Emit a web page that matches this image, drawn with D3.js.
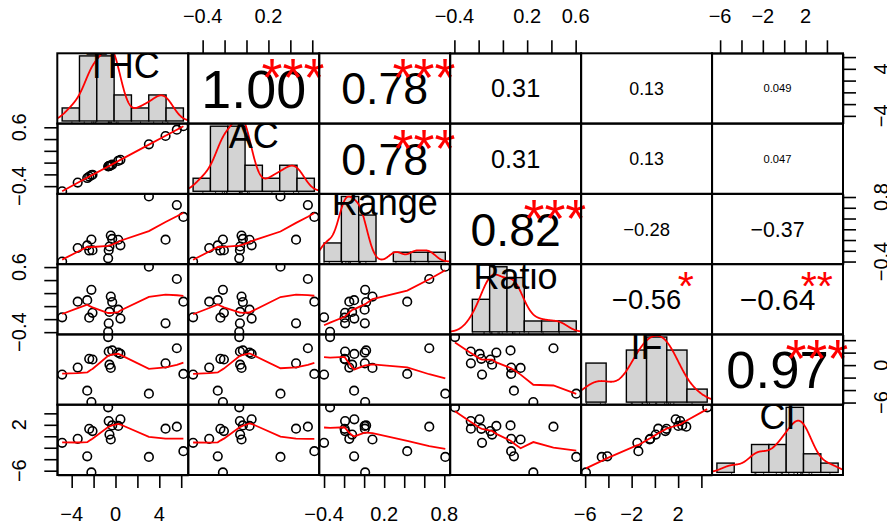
<!DOCTYPE html>
<html>
<head>
<meta charset="utf-8">
<script src="https://cdn.jsdelivr.net/npm/d3@7"></script>
<style>
  body { margin: 0; background: #fff; }
  svg { display: block; font-family: "Liberation Sans", Arial, sans-serif; }
</style>
</head>
<body>
<div id="chart"></div>
<script>
const names = ['THC', 'AC', 'Range', 'Ratio', 'IF', 'CI'];

const THC   = [-2.2, 3.05, -2.58, -4.87, 6.2, -3.45, -0.43, -0.55, -2.1, 4.57, -2.4, 0.45, 0.25, -0.62, -0.3, 5.6, -0.67];
const AC    = [-0.215, 0.31, -0.262, -0.487, 0.619, -0.34, -0.045, -0.058, -0.206, 0.452, -0.238, 0.047, 0.028, -0.06, -0.033, 0.56, -0.066];
const Range = [0.01, 0.81, -0.10, -0.40, 0.43, -0.148, 0.083, -0.12, -0.19, 0.007, -0.195, -0.098, 0.005, -0.19, 0.02, 0.65, -0.34];
const Ratio = [0.251, 0.605, 0.091, -0.172, 0.068, 0.068, 0.146, -0.089, -0.103, -0.264, -0.178, -0.192, -0.054, -0.265, 0.063, 0.417, -0.395];
const IF    = [-5.93, -4.57, -4.09, -1.51, -1.42, -0.4, -0.45, 0.07, 0.9, 0.29, 1.0, 1.79, 2.01, 2.18, 2.35, 2.70, 4.5];
const CI    = [-6.3, -3.6, -3.5, -1.14, -2.6, -0.44, -0.56, 0.3, 0.9, 1.32, 1.3, 2.95, 1.8, 2.65, 1.9, 1.67, 5.05];

// histogram breaks
const thcBreaks   = [-6, -4, -2, 0, 2, 4, 6, 8];
const acBreaks    = [-0.6, -0.4, -0.2, 0, 0.2, 0.4, 0.6, 0.8];
const rangeBreaks = [-0.4, -0.2, 0, 0.2, 0.4, 0.6, 0.8, 1.0];
const ratioBreaks = [-0.6, -0.4, -0.2, 0, 0.2, 0.4, 0.6, 0.8];
const ifBreaks    = [-6, -4, -2, 0, 2, 4, 6];
const ciBreaks    = [-8, -6, -4, -2, 0, 2, 4, 6];

// axis ticks and the labels that are printed
const thcTicks   = [-4, -2, 0, 2, 4, 6];
const acTicks    = [-0.4, -0.2, 0, 0.2, 0.4, 0.6];
const rangeTicks = [-0.4, -0.2, 0, 0.2, 0.4, 0.6, 0.8];
const ratioTicks = [-0.4, -0.2, 0, 0.2, 0.4, 0.6];
const ifTicks    = [-6, -4, -2, 0, 2, 4];
const ciTicks    = [-6, -4, -2, 0, 2, 4];

const topLabels    = { 1: [-0.4, 0.2], 3: [-0.4, 0.2, 0.6], 5: [-6, -2, 2] };
const bottomLabels = { 0: [-4, 0, 4], 2: [-0.4, 0.2, 0.8], 4: [-6, -2, 2] };
const leftLabels   = { 1: [-0.4, 0.6], 3: [-0.4, 0.6], 5: [-6, 2] };
const rightLabels  = { 0: [-4, 4], 2: [-0.4, 0.8], 4: [-6, 0] };

// upper panels, row by row
const corrText  = ['1.00', '0.78', '0.31', '0.13', '0.049', '0.78', '0.31', '0.13', '0.047', '0.82', '\u22120.28', '\u22120.37', '\u22120.56', '\u22120.64', '0.97'];
const corrStars = ['***', '***', '', '', '', '***', '', '', '', '***', '', '', '*', '**', '***'];

const cols = [THC, AC, Range, Ratio, IF, CI];
const breaks = [thcBreaks, acBreaks, rangeBreaks, ratioBreaks, ifBreaks, ciBreaks];
const ticks = [thcTicks, acTicks, rangeTicks, ratioTicks, ifTicks, ciTicks];

const width = 887, height = 529;
const svg = d3.select('#chart').append('svg')
  .attr('width', width).attr('height', height);
svg.append('rect').attr('width', width).attr('height', height).attr('fill', '#fff');

const gx = d3.scaleBand().domain(d3.range(6)).range([57.3, 843]);
const gy = d3.scaleBand().domain(d3.range(6)).range([53.3, 475]);
const cw = gx.bandwidth(), ch = gy.bandwidth();

const ctx = document.createElement('canvas').getContext('2d');
function textWidth(txt, size) {
  ctx.font = size + 'px "Liberation Sans", Arial, sans-serif';
  return ctx.measureText(txt).width;
}
const fmt = v => (v < 0 ? '\u2212' : '') + String(Math.abs(v));

function padDomain(v) {
  const [lo, hi] = d3.extent(v);
  const p = 0.04 * (hi - lo);
  return [lo - p, hi + p];
}
const xs = d3.range(6).map(j => d3.scaleLinear().domain(padDomain(cols[j])).range([gx(j), gx(j) + cw]));
const ys = d3.range(6).map(i => d3.scaleLinear().domain(padDomain(cols[i])).range([gy(i) + ch, gy(i)]));

const defs = svg.append('defs');
for (let i = 0; i < 6; i++) for (let j = 0; j < 6; j++) {
  defs.append('clipPath').attr('id', `c${i}${j}`)
    .append('rect').attr('x', gx(j)).attr('y', gy(i)).attr('width', cw).attr('height', ch);
}

// R's lowess (clowess port)
function lowess(xIn, yIn, f = 2 / 3, iter = 3) {
  const idx = d3.range(xIn.length).sort((a, b) => xIn[a] - xIn[b]);
  const n = idx.length;
  const x = [0, ...idx.map(k => xIn[k])];
  const y = [0, ...idx.map(k => yIn[k])];
  const delta = 0.01 * (x[n] - x[1]);
  const fit = new Array(n + 1).fill(0), rw = new Array(n + 1).fill(0);
  const res = new Array(n + 1).fill(0), w = new Array(n + 1).fill(0);
  const ns = Math.max(2, Math.min(n, Math.floor(f * n + 1e-7)));

  function lowest(xv, nleft, nright, userw) {
    const range = x[n] - x[1];
    const h = Math.max(xv - x[nleft], x[nright] - xv);
    const h9 = 0.999 * h, h1 = 0.001 * h;
    let a = 0, j = nleft;
    while (j <= n) {
      w[j] = 0;
      const r = Math.abs(x[j] - xv);
      if (r <= h9) {
        w[j] = r <= h1 ? 1 : Math.pow(1 - Math.pow(r / h, 3), 3);
        if (userw) w[j] *= rw[j];
        a += w[j];
      } else if (x[j] > xv) break;
      j++;
    }
    const nrt = j - 1;
    if (a <= 0) return null;
    for (j = nleft; j <= nrt; j++) w[j] /= a;
    if (h > 0) {
      a = 0;
      for (j = nleft; j <= nrt; j++) a += w[j] * x[j];
      let b = xv - a, c = 0;
      for (j = nleft; j <= nrt; j++) c += w[j] * (x[j] - a) * (x[j] - a);
      if (Math.sqrt(c) > 0.001 * range) {
        b /= c;
        for (j = nleft; j <= nrt; j++) w[j] *= (b * (x[j] - a) + 1);
      }
    }
    let s = 0;
    for (j = nleft; j <= nrt; j++) s += w[j] * y[j];
    return s;
  }

  let it = 1;
  while (it <= iter + 1) {
    let nleft = 1, nright = ns, last = 0, i = 1;
    for (;;) {
      if (nright < n) {
        const d1 = x[i] - x[nleft], d2 = x[nright + 1] - x[i];
        if (d1 > d2) { nleft++; nright++; continue; }
      }
      const v = lowest(x[i], nleft, nright, it > 1);
      fit[i] = v === null ? y[i] : v;
      if (last < i - 1) {
        const denom = x[i] - x[last];
        for (let j = last + 1; j < i; j++) {
          const alpha = (x[j] - x[last]) / denom;
          fit[j] = alpha * fit[i] + (1 - alpha) * fit[last];
        }
      }
      last = i;
      const cut = x[last] + delta;
      for (i = last + 1; i <= n; i++) {
        if (x[i] > cut) break;
        if (x[i] === x[last]) { fit[i] = fit[last]; last = i; }
      }
      i = Math.max(last + 1, i - 1);
      if (last >= n) break;
    }
    for (let k = 1; k <= n; k++) res[k] = y[k] - fit[k];
    let sc = 0;
    for (let k = 1; k <= n; k++) sc += Math.abs(res[k]);
    sc /= n;
    if (it > iter) break;
    const sorted = res.slice(1).map(Math.abs).sort((a, b) => a - b);
    const m1 = Math.floor(n / 2);
    const cmad = n % 2 === 0 ? 3 * (sorted[m1] + sorted[n - m1 - 1]) : 6 * sorted[m1];
    if (cmad < 1e-7 * sc) break;
    const c9 = 0.999 * cmad, c1 = 0.001 * cmad;
    for (let k = 1; k <= n; k++) {
      const r = Math.abs(res[k]);
      rw[k] = r <= c1 ? 1 : r <= c9 ? Math.pow(1 - Math.pow(r / cmad, 2), 2) : 0;
    }
    it++;
  }
  return d3.range(1, n + 1).map(k => [x[k], fit[k]]);
}

// gaussian kernel density, bw.nrd0
function density(v) {
  const s = v.slice().sort(d3.ascending);
  const iqr = d3.quantileSorted(s, 0.75) - d3.quantileSorted(s, 0.25);
  const lo = Math.min(d3.deviation(v), iqr / 1.34);
  const bw = 0.9 * lo * Math.pow(v.length, -0.2);
  const from = s[0] - 3 * bw, to = s[s.length - 1] + 3 * bw;
  return d3.range(512).map(k => {
    const t = from + (to - from) * k / 511;
    const d = d3.sum(v, xi => Math.exp(-0.5 * ((t - xi) / bw) ** 2)) / (v.length * bw * Math.sqrt(2 * Math.PI));
    return [t, d];
  });
}

// diagonal: histogram, density, rug, name
for (let i = 0; i < 6; i++) {
  const v = cols[i], br = breaks[i];
  const g = svg.append('g').attr('clip-path', `url(#c${i}${i})`);
  const counts = br.slice(1).map((b, k) => v.filter(d => (k === 0 ? d >= br[0] : d > br[k]) && d <= b).length);
  const dens = counts.map((c, k) => c / (v.length * (br[k + 1] - br[k])));
  const lo = br[0], hi = br[br.length - 1], maxD = d3.max(dens);
  const hx = d3.scaleLinear().domain([lo - 0.04 * (hi - lo), hi + 0.04 * (hi - lo)]).range([gx(i), gx(i) + cw]);
  const hy = d3.scaleLinear().domain([-0.04 * maxD, 1.04 * maxD]).range([gy(i) + ch, gy(i)]);

  g.selectAll('rect.bar').data(dens).enter().append('rect')
    .attr('class', 'bar')
    .attr('x', (d, k) => hx(br[k]))
    .attr('width', (d, k) => hx(br[k + 1]) - hx(br[k]))
    .attr('y', d => hy(d))
    .attr('height', d => hy(0) - hy(d))
    .attr('fill', '#d3d3d3').attr('stroke', '#000').attr('stroke-width', 1.4);

  g.append('path').datum(density(v))
    .attr('d', d3.line().x(d => hx(d[0])).y(d => hy(d[1])))
    .attr('fill', 'none').attr('stroke', '#ff0000').attr('stroke-width', 1.8);

  g.selectAll('line.rug').data(v).enter().append('line')
    .attr('x1', d => hx(d)).attr('x2', d => hx(d))
    .attr('y1', gy(i) + ch).attr('y2', gy(i) + ch - 0.03 * ch)
    .attr('stroke', '#000').attr('stroke-width', 0.8);

  // variable name, clipped to its panel like in the original
  const fs = 36;
  const yc = gy(i) + ch - 0.8333 * ch;
  const desc = /[gjpqy]/.test(names[i]) ? 0.21 : 0;
  g.append('text')
    .attr('x', gx(i) + cw / 2)
    .attr('y', yc + (0.716 - desc) / 2 * fs)
    .attr('text-anchor', 'middle')
    .attr('font-size', fs)
    .text(names[i]);
}

// upper: correlation text and stars
let c = 0;
for (let i = 0; i < 6; i++) for (let j = i + 1; j < 6; j++, c++) {
  const txt = corrText[c];
  const r = Math.abs(parseFloat(txt.replace('\u2212', '-')));
  const base = 0.8 * cw / textWidth(txt, 1);
  const fs = base * (r + 0.3) / 1.3;
  svg.append('text')
    .attr('x', gx(j) + cw / 2)
    .attr('y', gy(i) + ch / 2 + 0.358 * fs)
    .attr('text-anchor', 'middle')
    .attr('font-size', fs)
    .text(txt);
  if (corrStars[c]) {
    svg.append('text')
      .attr('x', gx(j) + 0.8 * cw)
      .attr('y', gy(i) + 0.2 * ch - 2 + 0.575 * base)
      .attr('text-anchor', 'middle')
      .attr('font-size', base)
      .attr('fill', '#ff0000')
      .text(corrStars[c]);
  }
}

// lower: points and lowess smooth
for (let i = 0; i < 6; i++) for (let j = 0; j < i; j++) {
  const g = svg.append('g').attr('clip-path', `url(#c${i}${j})`);
  const pts = cols[j].map((d, k) => [d, cols[i][k]]);
  g.selectAll('circle').data(pts).enter().append('circle')
    .attr('cx', d => xs[j](d[0])).attr('cy', d => ys[i](d[1]))
    .attr('r', 4.3)
    .attr('fill', 'none').attr('stroke', '#000').attr('stroke-width', 1.6);
  g.append('path').datum(lowess(cols[j], cols[i]))
    .attr('d', d3.line().x(d => xs[j](d[0])).y(d => ys[i](d[1])))
    .attr('fill', 'none').attr('stroke', '#ff0000').attr('stroke-width', 1.8);
}

// panel boxes
for (let i = 0; i < 6; i++) for (let j = 0; j < 6; j++) {
  svg.append('rect')
    .attr('x', gx(j)).attr('y', gy(i)).attr('width', cw).attr('height', ch)
    .attr('fill', 'none').attr('stroke', '#000').attr('stroke-width', 2);
}

// axes
const tickLen = 13, labelSize = 20;
function styleAxis(g) {
  g.selectAll('path').attr('stroke', '#000').attr('stroke-width', 1.6);
  g.selectAll('line').attr('stroke', '#000').attr('stroke-width', 1.6);
}
const yTop = gy(0), yBottom = gy(5) + ch, xLeft = gx(0), xRight = gx(5) + cw;

Object.keys(topLabels).forEach(j => {
  svg.append('g').attr('transform', `translate(0,${yTop})`)
    .call(d3.axisTop(xs[j]).tickValues(ticks[j]).tickSize(tickLen).tickSizeOuter(0).tickFormat(''))
    .call(styleAxis);
  topLabels[j].forEach(t => svg.append('text')
    .attr('x', xs[j](t)).attr('y', yTop - 30)
    .attr('text-anchor', 'middle').attr('font-size', labelSize).text(fmt(t)));
});
Object.keys(bottomLabels).forEach(j => {
  svg.append('g').attr('transform', `translate(0,${yBottom})`)
    .call(d3.axisBottom(xs[j]).tickValues(ticks[j]).tickSize(tickLen).tickSizeOuter(0).tickFormat(''))
    .call(styleAxis);
  bottomLabels[j].forEach(t => svg.append('text')
    .attr('x', xs[j](t)).attr('y', yBottom + 45.5)
    .attr('text-anchor', 'middle').attr('font-size', labelSize).text(fmt(t)));
});
Object.keys(leftLabels).forEach(i => {
  svg.append('g').attr('transform', `translate(${xLeft},0)`)
    .call(d3.axisLeft(ys[i]).tickValues(ticks[i]).tickSize(tickLen).tickSizeOuter(0).tickFormat(''))
    .call(styleAxis);
  leftLabels[i].forEach(t => svg.append('text')
    .attr('transform', `translate(${xLeft - 31},${ys[i](t)}) rotate(-90)`)
    .attr('text-anchor', 'middle').attr('font-size', labelSize).text(fmt(t)));
});
Object.keys(rightLabels).forEach(i => {
  svg.append('g').attr('transform', `translate(${xRight},0)`)
    .call(d3.axisRight(ys[i]).tickValues(ticks[i]).tickSize(tickLen).tickSizeOuter(0).tickFormat(''))
    .call(styleAxis);
  rightLabels[i].forEach(t => svg.append('text')
    .attr('transform', `translate(${xRight + 45},${ys[i](t)}) rotate(-90)`)
    .attr('text-anchor', 'middle').attr('font-size', labelSize).text(fmt(t)));
});
</script>
</body>
</html>
